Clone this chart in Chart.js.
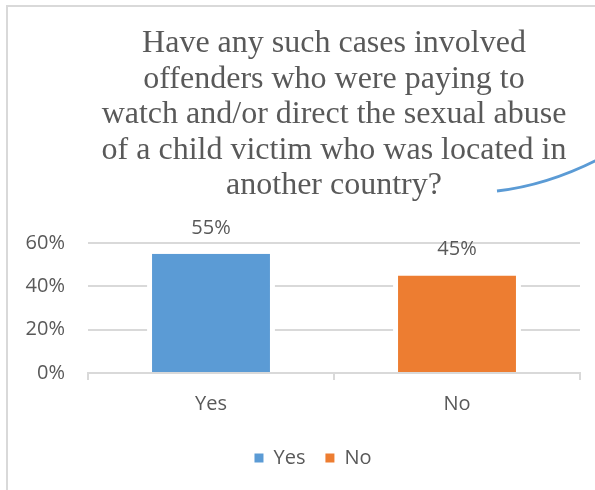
<!DOCTYPE html>
<html>
<head>
<meta charset="utf-8">
<script src="https://cdn.jsdelivr.net/npm/chart.js@4.4.1/dist/chart.umd.min.js"></script>
<style>
  html, body { margin: 0; padding: 0; background: #fff; overflow: hidden; width: 595px; height: 490px; }
  #frame { position: absolute; left: 6px; top: 5px; width: 640px; height: 520px; border: 2px solid #d9d9d9; box-sizing: border-box; }
  #wrap { position: absolute; left: 0; top: 0; width: 620px; height: 490px; }
</style>
</head>
<body>
<div id="frame"></div>
<div id="wrap"><canvas id="chart"></canvas></div>
<script>
/* ── Données ── */
const TITLE_LINES = [
  'Have any such cases involved',
  'offenders who were paying to',
  'watch and/or direct the sexual abuse',
  'of a child victim who was located in',
  'another country?'
];
const CATEGORIES = ['Yes', 'No'];
const SHARES = [0.55, 0.45];
const BAR_COLORS = ['#5b9bd5', '#ed7d31'];
const Y_MIN = 0;
const Y_MAX = 0.6;
const Y_STEP = 0.2;

const TEXT = '#595959';
const GRID = '#d9d9d9';

const pct = v => Math.round(v * 100) + '%';

/* étiquettes de valeur au-dessus des barres */
const valueLabels = {
  id: 'valueLabels',
  afterDatasetsDraw(chart) {
    const { ctx } = chart;
    const meta = chart.getDatasetMeta(0);
    ctx.save();
    ctx.font = '20px "Open Sans"';
    ctx.fillStyle = TEXT;
    ctx.textAlign = 'center';
    ctx.textBaseline = 'middle';
    meta.data.forEach((bar, i) => {
      ctx.fillText(pct(SHARES[i]), bar.x, bar.y - 26);
    });
    ctx.restore();
  }
};

/* trait décoratif bleu à droite du titre */
const swoosh = {
  id: 'swoosh',
  afterDraw(chart) {
    const { ctx } = chart;
    ctx.save();
    ctx.strokeStyle = '#5b9bd5';
    ctx.lineWidth = 3;
    ctx.beginPath();
    ctx.moveTo(497, 191);
    ctx.quadraticCurveTo(546, 185.5, 597, 160);
    ctx.stroke();
    ctx.restore();
  }
};

Chart.defaults.font.family = '"Open Sans", sans-serif';
Chart.defaults.color = TEXT;

new Chart(document.getElementById('chart'), {
  type: 'bar',
  data: {
    labels: CATEGORIES,
    datasets: [{
      label: 'Share',
      data: SHARES,
      backgroundColor: BAR_COLORS,
      borderColor: '#ffffff',
      borderWidth: { left: 5, right: 5, top: 0, bottom: 0 },
      barPercentage: 0.52,
      categoryPercentage: 1
    }]
  },
  plugins: [valueLabels, swoosh],
  options: {
    responsive: true,
    maintainAspectRatio: false,
    animation: false,
    layout: { padding: { left: 20, right: 14, top: 0, bottom: 12 } },
    plugins: {
      title: {
        display: true,
        text: TITLE_LINES,
        fullSize: false,
        color: TEXT,
        font: { family: '"Liberation Serif", "Times New Roman", serif', size: 32, weight: 'normal', lineHeight: 35.5 / 32 },
        padding: { top: 26, bottom: 39.5 }
      },
      legend: {
        position: 'bottom',
        onClick: () => {},
        labels: {
          boxWidth: 9,
          boxHeight: 9,
          padding: 20,
          color: TEXT,
          font: { size: 20 },
          generateLabels: (chart) => chart.data.labels.map((l, i) => ({
            text: l,
            fillStyle: BAR_COLORS[i],
            strokeStyle: BAR_COLORS[i],
            lineWidth: 0,
            fontColor: TEXT,
            hidden: false,
            index: i,
            datasetIndex: 0
          }))
        }
      },
      tooltip: { enabled: false }
    },
    scales: {
      x: {
        afterFit: (s) => { s.height = 55; },
        grid: { display: true, drawOnChartArea: false, drawTicks: true, tickLength: 7, color: GRID, lineWidth: 2, offset: true },
        border: { display: true, color: GRID, width: 2 },
        ticks: { padding: 12, font: { size: 20 }, color: TEXT }
      },
      y: {
        min: Y_MIN,
        max: Y_MAX,
        afterFit: (s) => { s.width = 68; },
        grid: { color: GRID, lineWidth: 2, drawTicks: false },
        border: { display: false },
        ticks: { stepSize: Y_STEP, padding: 23, font: { size: 20 }, color: TEXT, callback: v => pct(v) }
      },
      /* espace vide à droite du graphique (la légende est centrée sur tout le cadre) */
      yRight: {
        position: 'right',
        min: Y_MIN,
        max: Y_MAX,
        afterFit: (s) => { s.width = 26; },
        grid: { display: false, drawTicks: false },
        border: { display: false },
        ticks: { display: false }
      }
    }
  }
});
</script>
</body>
</html>
